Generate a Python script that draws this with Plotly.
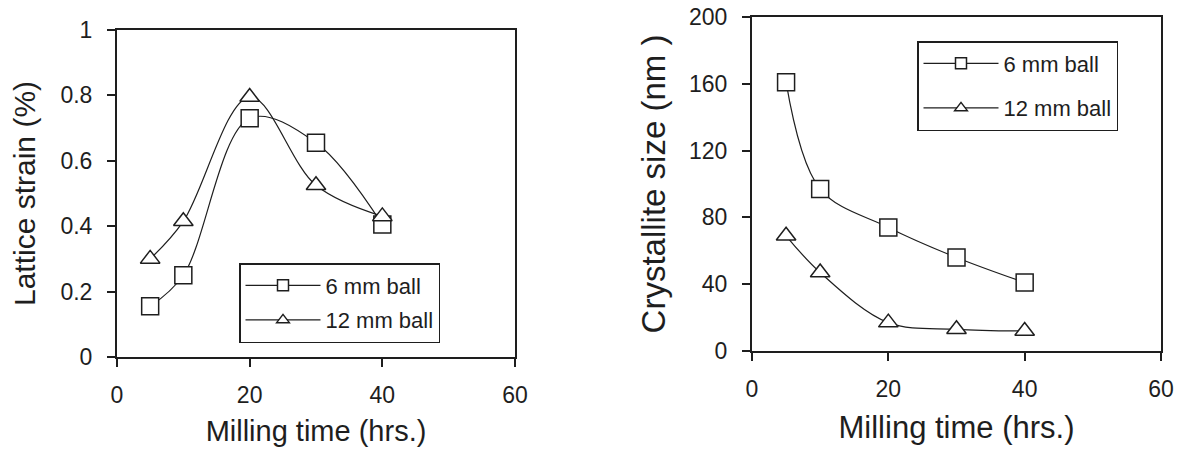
import plotly.graph_objects as go

# ---- data ----
milling_time = [5, 10, 20, 30, 40]
strain_6mm = [0.155, 0.25, 0.73, 0.655, 0.405]
strain_12mm = [0.30, 0.415, 0.795, 0.525, 0.43]
size_6mm = [161, 97, 74, 56, 41]
size_12mm = [69, 47, 17, 13, 12]

series_names = ["6 mm ball", "12 mm ball"]

x_ticks = [0, 20, 40, 60]
x_ticklabels = ["0", "20", "40", "60"]
strain_ticks = [0, 0.2, 0.4, 0.6, 0.8, 1]
strain_ticklabels = ["0", "0.2", "0.4", "0.6", "0.8", "1"]
size_ticks = [0, 40, 80, 120, 160, 200]
size_ticklabels = ["0", "40", "80", "120", "160", "200"]

INK = "#1e1e1e"
FONT = "Liberation Sans, Arial, sans-serif"

fig = go.Figure()


def add(x, y, symbol, xa, ya):
    fig.add_trace(go.Scatter(
        x=x, y=y, mode="lines+markers", showlegend=False,
        line=dict(color=INK, width=1.2, shape="spline", smoothing=1),
        marker=dict(symbol=symbol, size=17, color="white",
                    line=dict(color=INK, width=1.5)),
        xaxis=xa, yaxis=ya,
    ))


def add_key(name, symbol, xa, ya, legend, group):
    # legend-only entry (no data drawn) with a smaller key marker
    fig.add_trace(go.Scatter(
        x=[None], y=[None], name=name, mode="lines+markers",
        line=dict(color=INK, width=1.2),
        marker=dict(symbol=symbol, size=11, color="white",
                    line=dict(color=INK, width=1.5)),
        xaxis=xa, yaxis=ya, legend=legend, legendgroup=group,
    ))


add(milling_time, strain_6mm, "square", "x", "y")
add(milling_time, strain_12mm, "triangle-up", "x", "y")
add(milling_time, size_6mm, "square", "x2", "y2")
add(milling_time, size_12mm, "triangle-up", "x2", "y2")
add_key(series_names[0], "square", "x", "y", "legend", "a")
add_key(series_names[1], "triangle-up", "x", "y", "legend", "b")
add_key(series_names[0], "square", "x2", "y2", "legend2", "c")
add_key(series_names[1], "triangle-up", "x2", "y2", "legend2", "d")

axis_common = dict(
    showgrid=False, zeroline=False, showline=True, linecolor=INK, linewidth=2,
    mirror=True, ticks="outside", ticklen=8, tickwidth=2, tickcolor=INK,
    tickfont=dict(family=FONT, size=23, color=INK), automargin=False,
)

fig.update_layout(
    width=1186, height=453,
    margin=dict(l=0, r=0, t=0, b=0),
    paper_bgcolor="white", plot_bgcolor="white",
    font=dict(family=FONT, color=INK),
    xaxis=dict(domain=[117 / 1186, 515 / 1186], range=[0, 60], anchor="y",
               tickvals=x_ticks, ticktext=x_ticklabels, ticklabelstandoff=8,
               title=dict(text="Milling time (hrs.)", font=dict(size=29), standoff=14),
               **axis_common),
    yaxis=dict(domain=[(453 - 357) / 453, (453 - 30) / 453], range=[0, 1], anchor="x",
               tickvals=strain_ticks, ticktext=strain_ticklabels, ticklabelstandoff=10,
               title=dict(text="Lattice strain (%)", font=dict(size=30), standoff=16),
               **axis_common),
    xaxis2=dict(domain=[752 / 1186, 1161 / 1186], range=[0, 60], anchor="y2",
                tickvals=x_ticks, ticktext=x_ticklabels, ticklabelstandoff=8,
                title=dict(text="Milling time (hrs.)", font=dict(size=31), standoff=16),
                **axis_common),
    yaxis2=dict(domain=[(453 - 351) / 453, (453 - 17) / 453], range=[0, 200], anchor="x2",
                tickvals=size_ticks, ticktext=size_ticklabels, ticklabelstandoff=10,
                title=dict(text="Crystallite size (nm )", font=dict(size=33), standoff=13),
                **axis_common),
    legend=dict(x=239 / 1186, y=(453 - 263) / 453, xanchor="left", yanchor="top",
                bgcolor="white", bordercolor=INK, borderwidth=1.5,
                font=dict(family=FONT, size=22, color=INK),
                itemsizing="trace", itemwidth=75, tracegroupgap=3),
    legend2=dict(x=917 / 1186, y=(453 - 41) / 453, xanchor="left", yanchor="top",
                 bgcolor="white", bordercolor=INK, borderwidth=1.5,
                 font=dict(family=FONT, size=22, color=INK),
                 itemsizing="trace", itemwidth=75, tracegroupgap=13),
    showlegend=True,
)

fig.write_html("out.html", config={"displayModeBar": False},
               post_script="document.body.style.margin='0';")
